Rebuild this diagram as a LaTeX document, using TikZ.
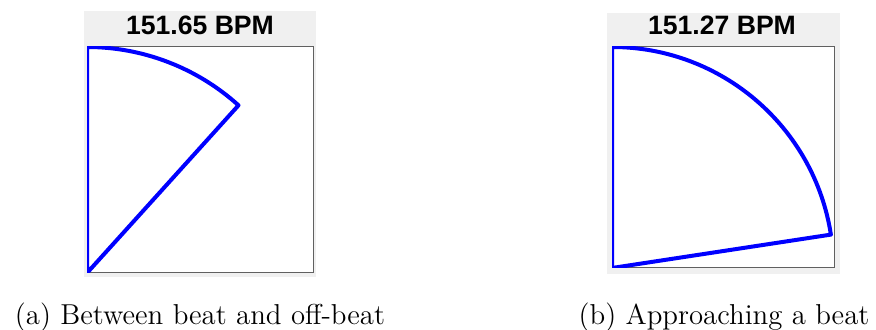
\documentclass[tikz,border=0pt]{standalone}
\usepackage{fontspec}
\newfontfamily\plotfont{Liberation Sans}
\definecolor{plotbg}{HTML}{F0F0F0}
\definecolor{plotedge}{HTML}{606060}
\tikzset{
  panel/.style={fill=plotbg},
  axesbox/.style={fill=white,draw=plotedge,line width=0.5pt},
  sector/.style={draw=blue,line width=2pt,line join=round},
  bpm/.style={font=\plotfont\bfseries\fontsize{13.3}{15}\selectfont,anchor=base,inner sep=0pt},
  subcap/.style={font=\fontsize{14.4}{17}\selectfont,anchor=base,inner sep=0pt}
}
\begin{document}
\begin{tikzpicture}[x=0.5pt,y=-0.5pt]
  \useasboundingbox (0,0) rectangle (876,330);

  % (a) between beat and off-beat
  \fill[panel] (84,11) rectangle (316,277);
  \coordinate (a0) at (87,273);
  \coordinate (a1) at (87,47);
  \filldraw[axesbox] (a1) rectangle (313,273);
  \begin{scope}
    \clip (a1) rectangle (313,273);
    \draw[sector] (a0) -- (a1) arc[start angle=-90,end angle=-47.9,radius=226] -- cycle;
  \end{scope}
  \node[bpm] (ta) at (200,35) {151.65 BPM};
  \node[subcap] (capa) at (200,325) {(a) Between beat and off-beat};

  % (b) approaching a beat
  \fill[panel] (607,13) rectangle (840,274);
  \coordinate (b0) at (612,268);
  \coordinate (b1) at (612,47);
  \filldraw[axesbox] (b1) rectangle (834,268);
  \begin{scope}
    \clip (b1) rectangle (834,268);
    \draw[sector] (b0) -- (b1) arc[start angle=-90,end angle=-8.8,radius=221.5] -- cycle;
  \end{scope}
  \node[bpm] (tb) at (722,35) {151.27 BPM};
  \node[subcap] (capb) at (724,325) {(b) Approaching a beat};
\end{tikzpicture}
\end{document}
